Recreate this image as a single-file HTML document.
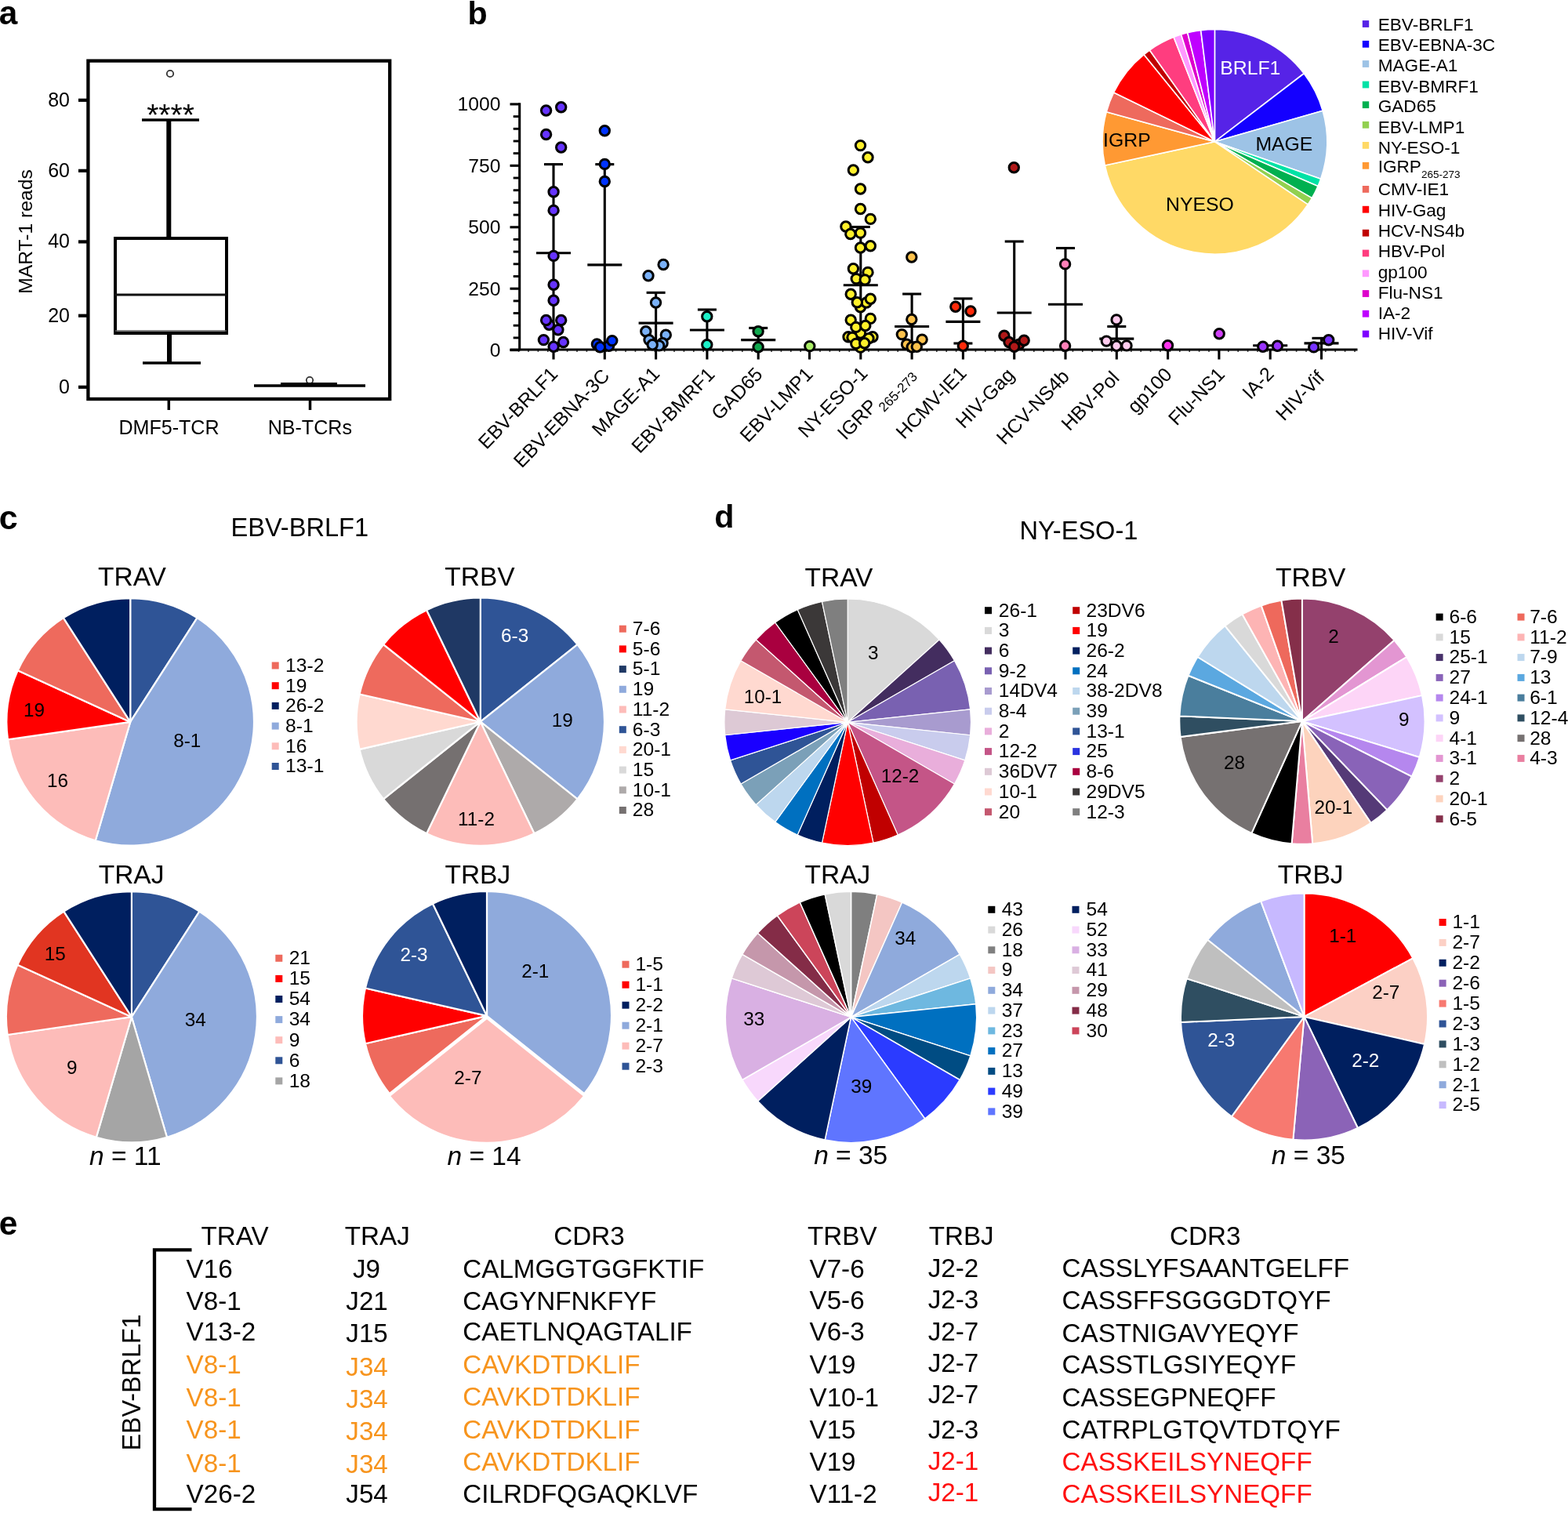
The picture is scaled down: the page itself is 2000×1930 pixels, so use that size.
<!DOCTYPE html>
<html lang="en"><head><meta charset="utf-8"><title>Figure</title>
<style>html,body{margin:0;padding:0;background:#fff}body{width:2000px;height:1930px;overflow:hidden}svg{display:block}text{font-family:"Liberation Sans", sans-serif}</style>
</head><body>
<svg width="2000" height="1930" viewBox="0 0 2000 1930">
<rect width="2000" height="1930" fill="#fff"/>
<text x="-1.3" y="31.1" font-size="42.3" font-weight="bold">a</text>
<text x="596.4" y="31.0" font-size="41.2" font-weight="bold">b</text>
<text x="-1.2" y="675.2" font-size="43" font-weight="bold">c</text>
<text x="911.2" y="673.1" font-size="41.2" font-weight="bold">d</text>
<text x="-1.3" y="1575.3" font-size="42.5" font-weight="bold">e</text>
<g id="panel-a">
<rect x="112.4" y="77.6" width="384.8" height="431.4" fill="none" stroke="#000" stroke-width="4.3"/>
<line x1="100" y1="493.8" x2="111" y2="493.8" stroke="#000" stroke-width="4.2"/>
<text x="89.0" y="501.9" font-size="25" text-anchor="end">0</text>
<line x1="100" y1="402.7" x2="111" y2="402.7" stroke="#000" stroke-width="4.2"/>
<text x="89.0" y="410.8" font-size="25" text-anchor="end">20</text>
<line x1="100" y1="308.4" x2="111" y2="308.4" stroke="#000" stroke-width="4.2"/>
<text x="89.0" y="316.4" font-size="25" text-anchor="end">40</text>
<line x1="100" y1="217.8" x2="111" y2="217.8" stroke="#000" stroke-width="4.2"/>
<text x="89.0" y="225.8" font-size="25" text-anchor="end">60</text>
<line x1="100" y1="127.8" x2="111" y2="127.8" stroke="#000" stroke-width="4.2"/>
<text x="89.0" y="135.8" font-size="25" text-anchor="end">80</text>
<line x1="215.3" y1="509" x2="215.3" y2="523" stroke="#000" stroke-width="3.5"/>
<line x1="395.5" y1="509" x2="395.5" y2="523" stroke="#000" stroke-width="3.5"/>
<text x="215.5" y="553.5" font-size="25.1" text-anchor="middle">DMF5-TCR</text>
<text x="395.3" y="553.5" font-size="25.1" text-anchor="middle">NB-TCRs</text>
<text transform="translate(40.6 295.5) rotate(-90)" font-size="24.7" text-anchor="middle">MART-1 reads</text>
<line x1="215.3" y1="153" x2="215.3" y2="304" stroke="#000" stroke-width="6"/>
<line x1="216" y1="425" x2="216" y2="463" stroke="#000" stroke-width="6"/>
<line x1="181" y1="153" x2="254" y2="153" stroke="#000" stroke-width="3.5"/>
<line x1="182" y1="463" x2="256" y2="463" stroke="#000" stroke-width="3.5"/>
<rect x="147" y="304" width="142" height="121" fill="#fff" stroke="#000" stroke-width="4"/>
<line x1="147" y1="376" x2="289" y2="376" stroke="#111" stroke-width="3.2"/>
<line x1="147" y1="422" x2="289" y2="422" stroke="#555" stroke-width="1.5"/>
<circle cx="217" cy="94" r="4.2" fill="#fff" stroke="#333" stroke-width="1.8"/>
<text x="217.5" y="160.0" font-size="39" text-anchor="middle">****</text>
<circle cx="395" cy="485" r="4.2" fill="#fff" stroke="#333" stroke-width="1.8"/>
<line x1="324" y1="492" x2="466" y2="492" stroke="#000" stroke-width="3.5"/>
<line x1="358" y1="489.5" x2="430" y2="489.5" stroke="#000" stroke-width="3"/>
</g>
<g id="panel-b">
<line x1="662.7" y1="131.2" x2="662.7" y2="447.3" stroke="#000" stroke-width="3.1"/>
<line x1="650.5" y1="446.0" x2="1731.5" y2="446.0" stroke="#000" stroke-width="3.1"/>
<line x1="650.5" y1="446.6" x2="662.7" y2="446.6" stroke="#000" stroke-width="3.1"/>
<text x="638.5" y="454.9" font-size="24.7" text-anchor="end">0</text>
<line x1="654.7" y1="430.9" x2="662.7" y2="430.9" stroke="#000" stroke-width="2.9"/>
<line x1="654.7" y1="415.2" x2="662.7" y2="415.2" stroke="#000" stroke-width="2.9"/>
<line x1="654.7" y1="399.5" x2="662.7" y2="399.5" stroke="#000" stroke-width="2.9"/>
<line x1="654.7" y1="383.9" x2="662.7" y2="383.9" stroke="#000" stroke-width="2.9"/>
<line x1="650.5" y1="368.2" x2="662.7" y2="368.2" stroke="#000" stroke-width="3.1"/>
<text x="638.5" y="376.5" font-size="24.7" text-anchor="end">250</text>
<line x1="654.7" y1="352.5" x2="662.7" y2="352.5" stroke="#000" stroke-width="2.9"/>
<line x1="654.7" y1="336.8" x2="662.7" y2="336.8" stroke="#000" stroke-width="2.9"/>
<line x1="654.7" y1="321.1" x2="662.7" y2="321.1" stroke="#000" stroke-width="2.9"/>
<line x1="654.7" y1="305.4" x2="662.7" y2="305.4" stroke="#000" stroke-width="2.9"/>
<line x1="650.5" y1="289.8" x2="662.7" y2="289.8" stroke="#000" stroke-width="3.1"/>
<text x="638.5" y="298.1" font-size="24.7" text-anchor="end">500</text>
<line x1="654.7" y1="274.1" x2="662.7" y2="274.1" stroke="#000" stroke-width="2.9"/>
<line x1="654.7" y1="258.4" x2="662.7" y2="258.4" stroke="#000" stroke-width="2.9"/>
<line x1="654.7" y1="242.7" x2="662.7" y2="242.7" stroke="#000" stroke-width="2.9"/>
<line x1="654.7" y1="227.0" x2="662.7" y2="227.0" stroke="#000" stroke-width="2.9"/>
<line x1="650.5" y1="211.3" x2="662.7" y2="211.3" stroke="#000" stroke-width="3.1"/>
<text x="638.5" y="219.7" font-size="24.7" text-anchor="end">750</text>
<line x1="654.7" y1="195.6" x2="662.7" y2="195.6" stroke="#000" stroke-width="2.9"/>
<line x1="654.7" y1="180.0" x2="662.7" y2="180.0" stroke="#000" stroke-width="2.9"/>
<line x1="654.7" y1="164.3" x2="662.7" y2="164.3" stroke="#000" stroke-width="2.9"/>
<line x1="654.7" y1="148.6" x2="662.7" y2="148.6" stroke="#000" stroke-width="2.9"/>
<line x1="650.5" y1="132.9" x2="662.7" y2="132.9" stroke="#000" stroke-width="3.1"/>
<text x="638.5" y="141.2" font-size="24.7" text-anchor="end">1000</text>
<line x1="661.6" y1="446.0" x2="661.6" y2="448.9" stroke="#000" stroke-width="1.6" opacity="0.75"/>
<line x1="674.0" y1="446.0" x2="674.0" y2="448.9" stroke="#000" stroke-width="1.6" opacity="0.75"/>
<line x1="686.4" y1="446.0" x2="686.4" y2="448.9" stroke="#000" stroke-width="1.6" opacity="0.75"/>
<line x1="698.8" y1="446.0" x2="698.8" y2="448.9" stroke="#000" stroke-width="1.6" opacity="0.75"/>
<line x1="711.2" y1="446.0" x2="711.2" y2="448.9" stroke="#000" stroke-width="1.6" opacity="0.75"/>
<line x1="723.6" y1="446.0" x2="723.6" y2="448.9" stroke="#000" stroke-width="1.6" opacity="0.75"/>
<line x1="736.0" y1="446.0" x2="736.0" y2="448.9" stroke="#000" stroke-width="1.6" opacity="0.75"/>
<line x1="748.4" y1="446.0" x2="748.4" y2="448.9" stroke="#000" stroke-width="1.6" opacity="0.75"/>
<line x1="760.8" y1="446.0" x2="760.8" y2="448.9" stroke="#000" stroke-width="1.6" opacity="0.75"/>
<line x1="773.2" y1="446.0" x2="773.2" y2="448.9" stroke="#000" stroke-width="1.6" opacity="0.75"/>
<line x1="785.6" y1="446.0" x2="785.6" y2="448.9" stroke="#000" stroke-width="1.6" opacity="0.75"/>
<line x1="798.0" y1="446.0" x2="798.0" y2="448.9" stroke="#000" stroke-width="1.6" opacity="0.75"/>
<line x1="810.4" y1="446.0" x2="810.4" y2="448.9" stroke="#000" stroke-width="1.6" opacity="0.75"/>
<line x1="822.8" y1="446.0" x2="822.8" y2="448.9" stroke="#000" stroke-width="1.6" opacity="0.75"/>
<line x1="835.2" y1="446.0" x2="835.2" y2="448.9" stroke="#000" stroke-width="1.6" opacity="0.75"/>
<line x1="847.6" y1="446.0" x2="847.6" y2="448.9" stroke="#000" stroke-width="1.6" opacity="0.75"/>
<line x1="860.0" y1="446.0" x2="860.0" y2="448.9" stroke="#000" stroke-width="1.6" opacity="0.75"/>
<line x1="872.4" y1="446.0" x2="872.4" y2="448.9" stroke="#000" stroke-width="1.6" opacity="0.75"/>
<line x1="884.8" y1="446.0" x2="884.8" y2="448.9" stroke="#000" stroke-width="1.6" opacity="0.75"/>
<line x1="897.2" y1="446.0" x2="897.2" y2="448.9" stroke="#000" stroke-width="1.6" opacity="0.75"/>
<line x1="909.6" y1="446.0" x2="909.6" y2="448.9" stroke="#000" stroke-width="1.6" opacity="0.75"/>
<line x1="922.0" y1="446.0" x2="922.0" y2="448.9" stroke="#000" stroke-width="1.6" opacity="0.75"/>
<line x1="934.4" y1="446.0" x2="934.4" y2="448.9" stroke="#000" stroke-width="1.6" opacity="0.75"/>
<line x1="946.8" y1="446.0" x2="946.8" y2="448.9" stroke="#000" stroke-width="1.6" opacity="0.75"/>
<line x1="959.2" y1="446.0" x2="959.2" y2="448.9" stroke="#000" stroke-width="1.6" opacity="0.75"/>
<line x1="971.6" y1="446.0" x2="971.6" y2="448.9" stroke="#000" stroke-width="1.6" opacity="0.75"/>
<line x1="984.0" y1="446.0" x2="984.0" y2="448.9" stroke="#000" stroke-width="1.6" opacity="0.75"/>
<line x1="996.4" y1="446.0" x2="996.4" y2="448.9" stroke="#000" stroke-width="1.6" opacity="0.75"/>
<line x1="1008.8" y1="446.0" x2="1008.8" y2="448.9" stroke="#000" stroke-width="1.6" opacity="0.75"/>
<line x1="1021.2" y1="446.0" x2="1021.2" y2="448.9" stroke="#000" stroke-width="1.6" opacity="0.75"/>
<line x1="1033.6" y1="446.0" x2="1033.6" y2="448.9" stroke="#000" stroke-width="1.6" opacity="0.75"/>
<line x1="1046.0" y1="446.0" x2="1046.0" y2="448.9" stroke="#000" stroke-width="1.6" opacity="0.75"/>
<line x1="1058.4" y1="446.0" x2="1058.4" y2="448.9" stroke="#000" stroke-width="1.6" opacity="0.75"/>
<line x1="1070.8" y1="446.0" x2="1070.8" y2="448.9" stroke="#000" stroke-width="1.6" opacity="0.75"/>
<line x1="1083.2" y1="446.0" x2="1083.2" y2="448.9" stroke="#000" stroke-width="1.6" opacity="0.75"/>
<line x1="1095.6" y1="446.0" x2="1095.6" y2="448.9" stroke="#000" stroke-width="1.6" opacity="0.75"/>
<line x1="1108.0" y1="446.0" x2="1108.0" y2="448.9" stroke="#000" stroke-width="1.6" opacity="0.75"/>
<line x1="1120.4" y1="446.0" x2="1120.4" y2="448.9" stroke="#000" stroke-width="1.6" opacity="0.75"/>
<line x1="1132.8" y1="446.0" x2="1132.8" y2="448.9" stroke="#000" stroke-width="1.6" opacity="0.75"/>
<line x1="1145.2" y1="446.0" x2="1145.2" y2="448.9" stroke="#000" stroke-width="1.6" opacity="0.75"/>
<line x1="1157.6" y1="446.0" x2="1157.6" y2="448.9" stroke="#000" stroke-width="1.6" opacity="0.75"/>
<line x1="1170.0" y1="446.0" x2="1170.0" y2="448.9" stroke="#000" stroke-width="1.6" opacity="0.75"/>
<line x1="1182.4" y1="446.0" x2="1182.4" y2="448.9" stroke="#000" stroke-width="1.6" opacity="0.75"/>
<line x1="1194.8" y1="446.0" x2="1194.8" y2="448.9" stroke="#000" stroke-width="1.6" opacity="0.75"/>
<line x1="1207.2" y1="446.0" x2="1207.2" y2="448.9" stroke="#000" stroke-width="1.6" opacity="0.75"/>
<line x1="1219.6" y1="446.0" x2="1219.6" y2="448.9" stroke="#000" stroke-width="1.6" opacity="0.75"/>
<line x1="1232.0" y1="446.0" x2="1232.0" y2="448.9" stroke="#000" stroke-width="1.6" opacity="0.75"/>
<line x1="1244.4" y1="446.0" x2="1244.4" y2="448.9" stroke="#000" stroke-width="1.6" opacity="0.75"/>
<line x1="1256.8" y1="446.0" x2="1256.8" y2="448.9" stroke="#000" stroke-width="1.6" opacity="0.75"/>
<line x1="1269.2" y1="446.0" x2="1269.2" y2="448.9" stroke="#000" stroke-width="1.6" opacity="0.75"/>
<line x1="1281.6" y1="446.0" x2="1281.6" y2="448.9" stroke="#000" stroke-width="1.6" opacity="0.75"/>
<line x1="1294.0" y1="446.0" x2="1294.0" y2="448.9" stroke="#000" stroke-width="1.6" opacity="0.75"/>
<line x1="1306.4" y1="446.0" x2="1306.4" y2="448.9" stroke="#000" stroke-width="1.6" opacity="0.75"/>
<line x1="1318.8" y1="446.0" x2="1318.8" y2="448.9" stroke="#000" stroke-width="1.6" opacity="0.75"/>
<line x1="1331.2" y1="446.0" x2="1331.2" y2="448.9" stroke="#000" stroke-width="1.6" opacity="0.75"/>
<line x1="1343.6" y1="446.0" x2="1343.6" y2="448.9" stroke="#000" stroke-width="1.6" opacity="0.75"/>
<line x1="1356.0" y1="446.0" x2="1356.0" y2="448.9" stroke="#000" stroke-width="1.6" opacity="0.75"/>
<line x1="1368.4" y1="446.0" x2="1368.4" y2="448.9" stroke="#000" stroke-width="1.6" opacity="0.75"/>
<line x1="1380.8" y1="446.0" x2="1380.8" y2="448.9" stroke="#000" stroke-width="1.6" opacity="0.75"/>
<line x1="1393.2" y1="446.0" x2="1393.2" y2="448.9" stroke="#000" stroke-width="1.6" opacity="0.75"/>
<line x1="1405.6" y1="446.0" x2="1405.6" y2="448.9" stroke="#000" stroke-width="1.6" opacity="0.75"/>
<line x1="1418.0" y1="446.0" x2="1418.0" y2="448.9" stroke="#000" stroke-width="1.6" opacity="0.75"/>
<line x1="1430.4" y1="446.0" x2="1430.4" y2="448.9" stroke="#000" stroke-width="1.6" opacity="0.75"/>
<line x1="1442.8" y1="446.0" x2="1442.8" y2="448.9" stroke="#000" stroke-width="1.6" opacity="0.75"/>
<line x1="1455.2" y1="446.0" x2="1455.2" y2="448.9" stroke="#000" stroke-width="1.6" opacity="0.75"/>
<line x1="1467.6" y1="446.0" x2="1467.6" y2="448.9" stroke="#000" stroke-width="1.6" opacity="0.75"/>
<line x1="1480.0" y1="446.0" x2="1480.0" y2="448.9" stroke="#000" stroke-width="1.6" opacity="0.75"/>
<line x1="1492.4" y1="446.0" x2="1492.4" y2="448.9" stroke="#000" stroke-width="1.6" opacity="0.75"/>
<line x1="1504.8" y1="446.0" x2="1504.8" y2="448.9" stroke="#000" stroke-width="1.6" opacity="0.75"/>
<line x1="1517.2" y1="446.0" x2="1517.2" y2="448.9" stroke="#000" stroke-width="1.6" opacity="0.75"/>
<line x1="1529.6" y1="446.0" x2="1529.6" y2="448.9" stroke="#000" stroke-width="1.6" opacity="0.75"/>
<line x1="1542.0" y1="446.0" x2="1542.0" y2="448.9" stroke="#000" stroke-width="1.6" opacity="0.75"/>
<line x1="1554.4" y1="446.0" x2="1554.4" y2="448.9" stroke="#000" stroke-width="1.6" opacity="0.75"/>
<line x1="1566.8" y1="446.0" x2="1566.8" y2="448.9" stroke="#000" stroke-width="1.6" opacity="0.75"/>
<line x1="1579.2" y1="446.0" x2="1579.2" y2="448.9" stroke="#000" stroke-width="1.6" opacity="0.75"/>
<line x1="1591.6" y1="446.0" x2="1591.6" y2="448.9" stroke="#000" stroke-width="1.6" opacity="0.75"/>
<line x1="1604.0" y1="446.0" x2="1604.0" y2="448.9" stroke="#000" stroke-width="1.6" opacity="0.75"/>
<line x1="1616.4" y1="446.0" x2="1616.4" y2="448.9" stroke="#000" stroke-width="1.6" opacity="0.75"/>
<line x1="1628.8" y1="446.0" x2="1628.8" y2="448.9" stroke="#000" stroke-width="1.6" opacity="0.75"/>
<line x1="1641.2" y1="446.0" x2="1641.2" y2="448.9" stroke="#000" stroke-width="1.6" opacity="0.75"/>
<line x1="1653.6" y1="446.0" x2="1653.6" y2="448.9" stroke="#000" stroke-width="1.6" opacity="0.75"/>
<line x1="1666.0" y1="446.0" x2="1666.0" y2="448.9" stroke="#000" stroke-width="1.6" opacity="0.75"/>
<line x1="1678.4" y1="446.0" x2="1678.4" y2="448.9" stroke="#000" stroke-width="1.6" opacity="0.75"/>
<line x1="1690.8" y1="446.0" x2="1690.8" y2="448.9" stroke="#000" stroke-width="1.6" opacity="0.75"/>
<line x1="1703.2" y1="446.0" x2="1703.2" y2="448.9" stroke="#000" stroke-width="1.6" opacity="0.75"/>
<line x1="1715.6" y1="446.0" x2="1715.6" y2="448.9" stroke="#000" stroke-width="1.6" opacity="0.75"/>
<line x1="1728.0" y1="446.0" x2="1728.0" y2="448.9" stroke="#000" stroke-width="1.6" opacity="0.75"/>
<line x1="706.0" y1="446.0" x2="706.0" y2="458.5" stroke="#000" stroke-width="3.1"/>
<text transform="translate(712.9 478.4) rotate(-46)" font-size="24.7" text-anchor="end">EBV-BRLF1</text>
<line x1="771.3" y1="446.0" x2="771.3" y2="458.5" stroke="#000" stroke-width="3.1"/>
<text transform="translate(779.0 480.6) rotate(-46)" font-size="24.7" text-anchor="end">EBV-EBNA-3C</text>
<line x1="836.6" y1="446.0" x2="836.6" y2="458.5" stroke="#000" stroke-width="3.1"/>
<text transform="translate(842.7 478.1) rotate(-46)" font-size="24.7" text-anchor="end">MAGE-A1</text>
<line x1="901.9" y1="446.0" x2="901.9" y2="458.5" stroke="#000" stroke-width="3.1"/>
<text transform="translate(913.1 478.9) rotate(-46)" font-size="24.7" text-anchor="end">EBV-BMRF1</text>
<line x1="967.2" y1="446.0" x2="967.2" y2="458.5" stroke="#000" stroke-width="3.1"/>
<text transform="translate(974.1 478.8) rotate(-46)" font-size="24.7" text-anchor="end">GAD65</text>
<line x1="1032.5" y1="446.0" x2="1032.5" y2="458.5" stroke="#000" stroke-width="3.1"/>
<text transform="translate(1038.2 478.6) rotate(-46)" font-size="24.7" text-anchor="end">EBV-LMP1</text>
<line x1="1097.8" y1="446.0" x2="1097.8" y2="458.5" stroke="#000" stroke-width="3.1"/>
<text transform="translate(1108.0 477.6) rotate(-46)" font-size="24.7" text-anchor="end">NY-ESO-1</text>
<line x1="1163.1" y1="446.0" x2="1163.1" y2="458.5" stroke="#000" stroke-width="3.1"/>
<text transform="translate(1163.7 474.2) rotate(-46)" font-size="24.7" text-anchor="end">IGRP<tspan font-size="17" dy="10.4">265-273</tspan></text>
<line x1="1228.4" y1="446.0" x2="1228.4" y2="458.5" stroke="#000" stroke-width="3.1"/>
<text transform="translate(1234.3 477.4) rotate(-46)" font-size="24.7" text-anchor="end">HCMV-IE1</text>
<line x1="1293.7" y1="446.0" x2="1293.7" y2="458.5" stroke="#000" stroke-width="3.1"/>
<text transform="translate(1295.2 479.6) rotate(-46)" font-size="24.7" text-anchor="end">HIV-Gag</text>
<line x1="1359.0" y1="446.0" x2="1359.0" y2="458.5" stroke="#000" stroke-width="3.1"/>
<text transform="translate(1365.4 481.6) rotate(-46)" font-size="24.7" text-anchor="end">HCV-NS4b</text>
<line x1="1424.3" y1="446.0" x2="1424.3" y2="458.5" stroke="#000" stroke-width="3.1"/>
<text transform="translate(1429.0 483.6) rotate(-46)" font-size="24.7" text-anchor="end">HBV-Pol</text>
<line x1="1489.6" y1="446.0" x2="1489.6" y2="458.5" stroke="#000" stroke-width="3.1"/>
<text transform="translate(1496.3 479.1) rotate(-46)" font-size="24.7" text-anchor="end">gp100</text>
<line x1="1554.9" y1="446.0" x2="1554.9" y2="458.5" stroke="#000" stroke-width="3.1"/>
<text transform="translate(1563.6 478.9) rotate(-46)" font-size="24.7" text-anchor="end">Flu-NS1</text>
<line x1="1620.2" y1="446.0" x2="1620.2" y2="458.5" stroke="#000" stroke-width="3.1"/>
<text transform="translate(1626.4 478.3) rotate(-46)" font-size="24.7" text-anchor="end">IA-2</text>
<line x1="1685.5" y1="446.0" x2="1685.5" y2="458.5" stroke="#000" stroke-width="3.1"/>
<text transform="translate(1690.7 483.1) rotate(-46)" font-size="24.7" text-anchor="end">HIV-Vif</text>
<g stroke="#000" stroke-width="3.1">
<line x1="684.0" y1="322.8" x2="728.0" y2="322.8"/>
<line x1="694.0" y1="209.6" x2="718.0" y2="209.6"/>
<line x1="706.0" y1="209.6" x2="706.0" y2="446.0"/>
</g>
<g fill="#6633FF" stroke="#000" stroke-width="3.0">
<circle cx="696.6" cy="141" r="6.2"/>
<circle cx="715.7" cy="136.7" r="6.2"/>
<circle cx="696.6" cy="171.5" r="6.2"/>
<circle cx="715.7" cy="188" r="6.2"/>
<circle cx="706.1" cy="244.8" r="6.2"/>
<circle cx="706.1" cy="268.4" r="6.2"/>
<circle cx="706.1" cy="326.4" r="6.2"/>
<circle cx="706.1" cy="363.2" r="6.2"/>
<circle cx="706.1" cy="383.2" r="6.2"/>
<circle cx="700.4" cy="414.2" r="6.2"/>
<circle cx="696.6" cy="408.5" r="6.2"/>
<circle cx="715.7" cy="408.5" r="6.2"/>
<circle cx="711.9" cy="420.7" r="6.2"/>
<circle cx="693.4" cy="433.6" r="6.2"/>
<circle cx="718.5" cy="436.5" r="6.2"/>
<circle cx="706.1" cy="442.2" r="6.2"/>
</g>
<g stroke="#000" stroke-width="3.1">
<line x1="749.3" y1="337.9" x2="793.3" y2="337.9"/>
<line x1="759.3" y1="209.6" x2="783.3" y2="209.6"/>
<line x1="771.3" y1="209.6" x2="771.3" y2="446.0"/>
</g>
<g fill="#0033FF" stroke="#000" stroke-width="3.0">
<circle cx="771.3" cy="166.7" r="6.2"/>
<circle cx="771.3" cy="209.4" r="6.2"/>
<circle cx="771.3" cy="231.5" r="6.2"/>
<circle cx="761.4" cy="439" r="6.2"/>
<circle cx="776.6" cy="441.2" r="6.2"/>
<circle cx="780.8" cy="434.6" r="6.2"/>
<circle cx="765.5" cy="442.8" r="6.2"/>
</g>
<g stroke="#000" stroke-width="3.1">
<line x1="814.6" y1="412.1" x2="858.6" y2="412.1"/>
<line x1="824.6" y1="373.3" x2="848.6" y2="373.3"/>
<line x1="836.6" y1="373.3" x2="836.6" y2="446.0"/>
</g>
<g fill="#7AB1F8" stroke="#000" stroke-width="3.0">
<circle cx="846.1" cy="337.5" r="6.2"/>
<circle cx="827" cy="351.8" r="6.2"/>
<circle cx="836.5" cy="386" r="6.2"/>
<circle cx="823.8" cy="422.8" r="6.2"/>
<circle cx="849.3" cy="427.3" r="6.2"/>
<circle cx="828" cy="433.6" r="6.2"/>
<circle cx="845.1" cy="437.8" r="6.2"/>
<circle cx="840.7" cy="440.9" r="6.2"/>
<circle cx="832.2" cy="439.7" r="6.2"/>
</g>
<g stroke="#000" stroke-width="3.1">
<line x1="879.9" y1="421" x2="923.9" y2="421"/>
<line x1="889.9" y1="395" x2="913.9" y2="395"/>
<line x1="901.9" y1="395" x2="901.9" y2="446.0"/>
</g>
<g fill="#1CF0C8" stroke="#000" stroke-width="3.0">
<circle cx="901.8" cy="403.7" r="6.2"/>
<circle cx="901.8" cy="439.7" r="6.2"/>
</g>
<g stroke="#000" stroke-width="3.1">
<line x1="945.2" y1="433.6" x2="989.2" y2="433.6"/>
<line x1="955.2" y1="418.4" x2="979.2" y2="418.4"/>
<line x1="967.2" y1="418.4" x2="967.2" y2="446.0"/>
</g>
<g fill="#10A84E" stroke="#000" stroke-width="3.0">
<circle cx="967.1" cy="422.8" r="6.2"/>
<circle cx="967.1" cy="442.8" r="6.2"/>
</g>
<g stroke="#000" stroke-width="3.1">
</g>
<g fill="#AAEE66" stroke="#000" stroke-width="3.0">
<circle cx="1032.8" cy="441.6" r="6.2"/>
</g>
<g stroke="#000" stroke-width="3.1">
<line x1="1075.8" y1="363.8" x2="1119.8" y2="363.8"/>
<line x1="1085.8" y1="289.5" x2="1109.8" y2="289.5"/>
<line x1="1097.8" y1="289.5" x2="1097.8" y2="446.0"/>
</g>
<g fill="#FFF02A" stroke="#000" stroke-width="3.0">
<circle cx="1097.5" cy="185.6" r="6.2"/>
<circle cx="1107" cy="200.8" r="6.2"/>
<circle cx="1088.4" cy="217" r="6.2"/>
<circle cx="1097.5" cy="241" r="6.2"/>
<circle cx="1097.5" cy="266.5" r="6.2"/>
<circle cx="1110.3" cy="279.4" r="6.2"/>
<circle cx="1078.9" cy="289" r="6.2"/>
<circle cx="1084.8" cy="298.5" r="6.2"/>
<circle cx="1097.5" cy="297.1" r="6.2"/>
<circle cx="1110.3" cy="313.7" r="6.2"/>
<circle cx="1097.5" cy="316" r="6.2"/>
<circle cx="1088.4" cy="342.8" r="6.2"/>
<circle cx="1107" cy="347.4" r="6.2"/>
<circle cx="1092.2" cy="355.6" r="6.2"/>
<circle cx="1103.2" cy="356.9" r="6.2"/>
<circle cx="1085.2" cy="375.2" r="6.2"/>
<circle cx="1097.5" cy="391.7" r="6.2"/>
<circle cx="1105.1" cy="386" r="6.2"/>
<circle cx="1110.3" cy="381.3" r="6.2"/>
<circle cx="1093.3" cy="385.7" r="6.2"/>
<circle cx="1085.2" cy="408.3" r="6.2"/>
<circle cx="1110.3" cy="406.4" r="6.2"/>
<circle cx="1097.5" cy="425" r="6.2"/>
<circle cx="1091.8" cy="417.4" r="6.2"/>
<circle cx="1103.8" cy="415.5" r="6.2"/>
<circle cx="1082" cy="429.8" r="6.2"/>
<circle cx="1113" cy="429.8" r="6.2"/>
<circle cx="1108" cy="431.7" r="6.2"/>
<circle cx="1087" cy="430.4" r="6.2"/>
<circle cx="1097.5" cy="443.1" r="6.2"/>
<circle cx="1091.8" cy="438.4" r="6.2"/>
<circle cx="1102.7" cy="437.8" r="6.2"/>
</g>
<g stroke="#000" stroke-width="3.1">
<line x1="1141.1" y1="416.5" x2="1185.1" y2="416.5"/>
<line x1="1151.1" y1="375" x2="1175.1" y2="375"/>
<line x1="1163.1" y1="375" x2="1163.1" y2="446.0"/>
</g>
<g fill="#FDC24C" stroke="#000" stroke-width="3.0">
<circle cx="1162.8" cy="328" r="6.2"/>
<circle cx="1162.8" cy="407.5" r="6.2"/>
<circle cx="1150.3" cy="426.6" r="6.2"/>
<circle cx="1176.1" cy="433.1" r="6.2"/>
<circle cx="1156.5" cy="439.3" r="6.2"/>
<circle cx="1163.2" cy="442.8" r="6.2"/>
<circle cx="1169.3" cy="442.2" r="6.2"/>
</g>
<g stroke="#000" stroke-width="3.1">
<line x1="1206.4" y1="410.4" x2="1250.4" y2="410.4"/>
<line x1="1216.4" y1="380.9" x2="1240.4" y2="380.9"/>
<line x1="1228.4" y1="380.9" x2="1228.4" y2="438"/>
<line x1="1216.4" y1="438" x2="1240.4" y2="438"/>
</g>
<g fill="#FF2A0A" stroke="#000" stroke-width="3.0">
<circle cx="1218.8" cy="391.2" r="6.2"/>
<circle cx="1238" cy="397" r="6.2"/>
<circle cx="1228.3" cy="441.2" r="6.2"/>
</g>
<g stroke="#000" stroke-width="3.1">
<line x1="1271.7" y1="399" x2="1315.7" y2="399"/>
<line x1="1281.7" y1="308" x2="1305.7" y2="308"/>
<line x1="1293.7" y1="308" x2="1293.7" y2="446.0"/>
</g>
<g fill="#B01818" stroke="#000" stroke-width="3.0">
<circle cx="1293.3" cy="213.8" r="6.2"/>
<circle cx="1280.9" cy="428.3" r="6.2"/>
<circle cx="1300" cy="439.3" r="6.2"/>
<circle cx="1306.2" cy="434.2" r="6.2"/>
<circle cx="1287" cy="436.5" r="6.2"/>
<circle cx="1293.7" cy="442.2" r="6.2"/>
</g>
<g stroke="#000" stroke-width="3.1">
<line x1="1337.0" y1="388.3" x2="1381.0" y2="388.3"/>
<line x1="1347.0" y1="316.5" x2="1371.0" y2="316.5"/>
<line x1="1359.0" y1="316.5" x2="1359.0" y2="446.0"/>
</g>
<g fill="#FF80B8" stroke="#000" stroke-width="3.0">
<circle cx="1358.6" cy="336.9" r="6.2"/>
<circle cx="1358.6" cy="441.2" r="6.2"/>
</g>
<g stroke="#000" stroke-width="3.1">
<line x1="1402.3" y1="432.1" x2="1446.3" y2="432.1"/>
<line x1="1412.3" y1="416.5" x2="1436.3" y2="416.5"/>
<line x1="1424.3" y1="416.5" x2="1424.3" y2="446.0"/>
</g>
<g fill="#FFCCEE" stroke="#000" stroke-width="3.0">
<circle cx="1424.1" cy="407.9" r="6.2"/>
<circle cx="1411.3" cy="435.1" r="6.2"/>
<circle cx="1424.1" cy="441.2" r="6.2"/>
<circle cx="1437" cy="440.9" r="6.2"/>
</g>
<g stroke="#000" stroke-width="3.1">
</g>
<g fill="#FF33EE" stroke="#000" stroke-width="3.0">
<circle cx="1489.5" cy="440.8" r="6.2"/>
</g>
<g stroke="#000" stroke-width="3.1">
</g>
<g fill="#D040F8" stroke="#000" stroke-width="3.0">
<circle cx="1555.2" cy="425.7" r="6.2"/>
</g>
<g stroke="#000" stroke-width="3.1">
<line x1="1598.2" y1="440.8" x2="1642.2" y2="440.8"/>
</g>
<g fill="#9933FF" stroke="#000" stroke-width="3.0">
<circle cx="1610.8" cy="442.3" r="6.2"/>
<circle cx="1629.4" cy="441.3" r="6.2"/>
</g>
<g stroke="#000" stroke-width="3.1">
<line x1="1663.5" y1="437.9" x2="1707.5" y2="437.9"/>
<line x1="1673.5" y1="431.4" x2="1697.5" y2="431.4"/>
<line x1="1685.5" y1="431.4" x2="1685.5" y2="446.0"/>
</g>
<g fill="#7733FF" stroke="#000" stroke-width="3.0">
<circle cx="1675.7" cy="442.9" r="6.2"/>
<circle cx="1694.7" cy="433.7" r="6.2"/>
</g>
<g stroke="#fff" stroke-width="1.6" stroke-linejoin="round">
<path d="M1549.40 180.80L1549.40 37.50A143.3 143.3 0 0 1 1663.24 93.76Z" fill="#5623E7"/>
<path d="M1549.40 180.80L1663.24 93.76A143.3 143.3 0 0 1 1687.15 141.30Z" fill="#1400FF"/>
<path d="M1549.40 180.80L1687.15 141.30A143.3 143.3 0 0 1 1684.65 228.16Z" fill="#9DC3E6"/>
<path d="M1549.40 180.80L1684.65 228.16A143.3 143.3 0 0 1 1681.01 237.48Z" fill="#00E2A6"/>
<path d="M1549.40 180.80L1681.01 237.48A143.3 143.3 0 0 1 1673.38 252.67Z" fill="#00B050"/>
<path d="M1549.40 180.80L1673.38 252.67A143.3 143.3 0 0 1 1668.20 260.93Z" fill="#92D050"/>
<path d="M1549.40 180.80L1668.20 260.93A143.3 143.3 0 0 1 1409.34 211.08Z" fill="#FFD966"/>
<path d="M1549.40 180.80L1409.34 211.08A143.3 143.3 0 0 1 1411.25 142.75Z" fill="#FF9933"/>
<path d="M1549.40 180.80L1411.25 142.75A143.3 143.3 0 0 1 1420.60 117.98Z" fill="#EE6A5D"/>
<path d="M1549.40 180.80L1420.60 117.98A143.3 143.3 0 0 1 1459.02 69.59Z" fill="#FF0000"/>
<path d="M1549.40 180.80L1459.02 69.59A143.3 143.3 0 0 1 1466.39 63.99Z" fill="#C00000"/>
<path d="M1549.40 180.80L1466.39 63.99A143.3 143.3 0 0 1 1497.11 47.38Z" fill="#FF3D7F"/>
<path d="M1549.40 180.80L1497.11 47.38A143.3 143.3 0 0 1 1506.55 44.06Z" fill="#FF99FF"/>
<path d="M1549.40 180.80L1506.55 44.06A143.3 143.3 0 0 1 1514.73 41.76Z" fill="#DD00CC"/>
<path d="M1549.40 180.80L1514.73 41.76A143.3 143.3 0 0 1 1531.69 38.60Z" fill="#BF00FF"/>
<path d="M1549.40 180.80L1531.69 38.60A143.3 143.3 0 0 1 1549.40 37.50Z" fill="#7F00FF"/>
</g>
<text x="1594.8" y="95.4" font-size="24.8" text-anchor="middle" fill="#fff">BRLF1</text>
<text x="1637.9" y="191.7" font-size="24.8" text-anchor="middle">MAGE</text>
<text x="1437.4" y="187.1" font-size="24.8" text-anchor="middle">IGRP</text>
<text x="1530.5" y="269.2" font-size="24.8" text-anchor="middle">NYESO</text>
<rect x="1737.8" y="26.1" width="8.4" height="8.8" fill="#5623E7"/>
<text x="1757.7" y="38.5" font-size="22.6">EBV-BRLF1</text>
<rect x="1737.8" y="51.9" width="8.4" height="8.8" fill="#1400FF"/>
<text x="1757.7" y="64.8" font-size="22.6">EBV-EBNA-3C</text>
<rect x="1737.8" y="77.1" width="8.4" height="8.8" fill="#9DC3E6"/>
<text x="1757.7" y="91.1" font-size="22.6">MAGE-A1</text>
<rect x="1737.8" y="103.6" width="8.4" height="8.8" fill="#00E2A6"/>
<text x="1757.7" y="117.6" font-size="22.6">EBV-BMRF1</text>
<rect x="1737.8" y="129.3" width="8.4" height="8.8" fill="#00B050"/>
<text x="1757.7" y="143.1" font-size="22.6">GAD65</text>
<rect x="1737.8" y="154.9" width="8.4" height="8.8" fill="#92D050"/>
<text x="1757.7" y="169.9" font-size="22.6">EBV-LMP1</text>
<rect x="1737.8" y="181.0" width="8.4" height="8.8" fill="#FFD966"/>
<text x="1757.7" y="196.3" font-size="22.6">NY-ESO-1</text>
<rect x="1737.8" y="206.9" width="8.4" height="8.8" fill="#FF9933"/>
<text x="1757.7" y="219.6" font-size="22.6">IGRP<tspan font-size="13.5" dy="7">265-273</tspan></text>
<rect x="1737.8" y="237.0" width="8.4" height="8.8" fill="#EE6A5D"/>
<text x="1757.7" y="249.2" font-size="22.6">CMV-IE1</text>
<rect x="1737.8" y="262.8" width="8.4" height="8.8" fill="#FF0000"/>
<text x="1757.7" y="275.6" font-size="22.6">HIV-Gag</text>
<rect x="1737.8" y="292.8" width="8.4" height="8.8" fill="#C00000"/>
<text x="1757.7" y="302.4" font-size="22.6">HCV-NS4b</text>
<rect x="1737.8" y="318.6" width="8.4" height="8.8" fill="#FF3D7F"/>
<text x="1757.7" y="328.0" font-size="22.6">HBV-Pol</text>
<rect x="1737.8" y="344.4" width="8.4" height="8.8" fill="#FF99FF"/>
<text x="1757.7" y="355.0" font-size="22.6">gp100</text>
<rect x="1737.8" y="370.1" width="8.4" height="8.8" fill="#DD00CC"/>
<text x="1757.7" y="380.8" font-size="22.6">Flu-NS1</text>
<rect x="1737.8" y="395.8" width="8.4" height="8.8" fill="#BF00FF"/>
<text x="1757.7" y="406.8" font-size="22.6">IA-2</text>
<rect x="1737.8" y="421.6" width="8.4" height="8.8" fill="#7F00FF"/>
<text x="1757.7" y="433.3" font-size="22.6">HIV-Vif</text>
</g>
<g id="panel-c">
<text x="382.3" y="684.0" font-size="32.6" text-anchor="middle">EBV-BRLF1</text>
<text x="168.5" y="747.4" font-size="33.5" text-anchor="middle">TRAV</text>
<text x="612.0" y="747.4" font-size="33.5" text-anchor="middle">TRBV</text>
<text x="167.6" y="1126.8" font-size="33.5" text-anchor="middle">TRAJ</text>
<text x="609.3" y="1126.8" font-size="33.5" text-anchor="middle">TRBJ</text>
<text x="159.8" y="1485.5" font-size="33.5" text-anchor="middle"><tspan font-style="italic">n</tspan> = 11</text>
<text x="617.6" y="1485.5" font-size="33.5" text-anchor="middle"><tspan font-style="italic">n</tspan> = 14</text>
<g stroke="#fff" stroke-width="2.2" stroke-linejoin="round">
<path d="M166.20 920.90L166.20 763.10A157.8 157.8 0 0 1 251.51 788.15Z" fill="#2F5496"/>
<path d="M166.20 920.90L251.51 788.15A157.8 157.8 0 0 1 121.74 1072.31Z" fill="#8FAADC"/>
<path d="M166.20 920.90L121.74 1072.31A157.8 157.8 0 0 1 10.01 943.36Z" fill="#FDBCB9"/>
<path d="M166.20 920.90L10.01 943.36A157.8 157.8 0 0 1 22.66 855.35Z" fill="#FF0000"/>
<path d="M166.20 920.90L22.66 855.35A157.8 157.8 0 0 1 80.89 788.15Z" fill="#EE6A5D"/>
<path d="M166.20 920.90L80.89 788.15A157.8 157.8 0 0 1 166.20 763.10Z" fill="#001F5F"/>
</g>
<text x="43.6" y="914.2" font-size="24.3" text-anchor="middle">19</text>
<text x="238.8" y="953.2" font-size="24.3" text-anchor="middle">8-1</text>
<text x="73.5" y="1003.7" font-size="24.3" text-anchor="middle">16</text>
<rect x="346.7" y="844.5" width="9" height="9" fill="#EE6A5D"/>
<text x="364.1" y="856.8" font-size="24.6">13-2</text>
<rect x="346.7" y="870.2" width="9" height="9" fill="#FF0000"/>
<text x="364.1" y="882.5" font-size="24.6">19</text>
<rect x="346.7" y="895.9" width="9" height="9" fill="#001F5F"/>
<text x="364.1" y="908.2" font-size="24.6">26-2</text>
<rect x="346.7" y="921.6" width="9" height="9" fill="#8FAADC"/>
<text x="364.1" y="933.9" font-size="24.6">8-1</text>
<rect x="346.7" y="947.3" width="9" height="9" fill="#FDBCB9"/>
<text x="364.1" y="959.6" font-size="24.6">16</text>
<rect x="346.7" y="973.0" width="9" height="9" fill="#2F5496"/>
<text x="364.1" y="985.3" font-size="24.6">13-1</text>
<g stroke="#fff" stroke-width="2.2" stroke-linejoin="round">
<path d="M612.80 920.70L612.80 762.50A158.2 158.2 0 0 1 736.49 822.06Z" fill="#2F5496"/>
<path d="M612.80 920.70L736.49 822.06A158.2 158.2 0 0 1 736.49 1019.34Z" fill="#8FAADC"/>
<path d="M612.80 920.70L736.49 1019.34A158.2 158.2 0 0 1 681.44 1063.23Z" fill="#AEAAAA"/>
<path d="M612.80 920.70L681.44 1063.23A158.2 158.2 0 0 1 544.16 1063.23Z" fill="#FDBCB9"/>
<path d="M612.80 920.70L544.16 1063.23A158.2 158.2 0 0 1 489.11 1019.34Z" fill="#757070"/>
<path d="M612.80 920.70L489.11 1019.34A158.2 158.2 0 0 1 458.57 955.90Z" fill="#D9D9D9"/>
<path d="M612.80 920.70L458.57 955.90A158.2 158.2 0 0 1 458.57 885.50Z" fill="#FFD9D0"/>
<path d="M612.80 920.70L458.57 885.50A158.2 158.2 0 0 1 489.11 822.06Z" fill="#EE6A5D"/>
<path d="M612.80 920.70L489.11 822.06A158.2 158.2 0 0 1 544.16 778.17Z" fill="#FF0000"/>
<path d="M612.80 920.70L544.16 778.17A158.2 158.2 0 0 1 612.80 762.50Z" fill="#1F3864"/>
</g>
<text x="656.6" y="819.2" font-size="24.3" text-anchor="middle" fill="#fff">6-3</text>
<text x="717.2" y="927.1" font-size="24.3" text-anchor="middle">19</text>
<text x="607.5" y="1052.9" font-size="24.3" text-anchor="middle">11-2</text>
<rect x="789.8" y="797.7" width="9" height="9" fill="#EE6A5D"/>
<text x="806.8" y="810.0" font-size="24.6">7-6</text>
<rect x="789.8" y="823.4" width="9" height="9" fill="#FF0000"/>
<text x="806.8" y="835.7" font-size="24.6">5-6</text>
<rect x="789.8" y="849.1" width="9" height="9" fill="#1F3864"/>
<text x="806.8" y="861.4" font-size="24.6">5-1</text>
<rect x="789.8" y="874.8" width="9" height="9" fill="#8FAADC"/>
<text x="806.8" y="887.1" font-size="24.6">19</text>
<rect x="789.8" y="900.5" width="9" height="9" fill="#FDBCB9"/>
<text x="806.8" y="912.8" font-size="24.6">11-2</text>
<rect x="789.8" y="926.2" width="9" height="9" fill="#2F5496"/>
<text x="806.8" y="938.5" font-size="24.6">6-3</text>
<rect x="789.8" y="951.9" width="9" height="9" fill="#FFD9D0"/>
<text x="806.8" y="964.2" font-size="24.6">20-1</text>
<rect x="789.8" y="977.6" width="9" height="9" fill="#D9D9D9"/>
<text x="806.8" y="989.9" font-size="24.6">15</text>
<rect x="789.8" y="1003.3" width="9" height="9" fill="#AEAAAA"/>
<text x="806.8" y="1015.6" font-size="24.6">10-1</text>
<rect x="789.8" y="1029.0" width="9" height="9" fill="#757070"/>
<text x="806.8" y="1041.3" font-size="24.6">28</text>
<g stroke="#fff" stroke-width="2.2" stroke-linejoin="round">
<path d="M167.90 1297.20L167.90 1137.20A160 160 0 0 1 254.40 1162.60Z" fill="#2F5496"/>
<path d="M167.90 1297.20L254.40 1162.60A160 160 0 0 1 212.98 1450.72Z" fill="#8FAADC"/>
<path d="M167.90 1297.20L212.98 1450.72A160 160 0 0 1 122.82 1450.72Z" fill="#A5A5A5"/>
<path d="M167.90 1297.20L122.82 1450.72A160 160 0 0 1 9.53 1319.97Z" fill="#FDBCB9"/>
<path d="M167.90 1297.20L9.53 1319.97A160 160 0 0 1 22.36 1230.73Z" fill="#EE6A5D"/>
<path d="M167.90 1297.20L22.36 1230.73A160 160 0 0 1 81.40 1162.60Z" fill="#E13521"/>
<path d="M167.90 1297.20L81.40 1162.60A160 160 0 0 1 167.90 1137.20Z" fill="#001F5F"/>
</g>
<text x="70.3" y="1225.1" font-size="24.3" text-anchor="middle">15</text>
<text x="249.3" y="1309.1" font-size="24.3" text-anchor="middle">34</text>
<text x="91.8" y="1369.7" font-size="24.3" text-anchor="middle">9</text>
<rect x="351.3" y="1217.8" width="9" height="9" fill="#EE6A5D"/>
<text x="368.7" y="1230.1" font-size="24.6">21</text>
<rect x="351.3" y="1243.9" width="9" height="9" fill="#FF0000"/>
<text x="368.7" y="1256.2" font-size="24.6">15</text>
<rect x="351.3" y="1270.0" width="9" height="9" fill="#001F5F"/>
<text x="368.7" y="1282.3" font-size="24.6">54</text>
<rect x="351.3" y="1296.1" width="9" height="9" fill="#8FAADC"/>
<text x="368.7" y="1308.4" font-size="24.6">34</text>
<rect x="351.3" y="1322.2" width="9" height="9" fill="#FDBCB9"/>
<text x="368.7" y="1334.5" font-size="24.6">9</text>
<rect x="351.3" y="1348.3" width="9" height="9" fill="#2F5496"/>
<text x="368.7" y="1360.6" font-size="24.6">6</text>
<rect x="351.3" y="1374.4" width="9" height="9" fill="#A5A5A5"/>
<text x="368.7" y="1386.7" font-size="24.6">18</text>
<g stroke="#fff" stroke-width="2.2" stroke-linejoin="round">
<path d="M621.00 1295.90L621.00 1136.90A159 159 0 0 1 745.31 1395.03Z" fill="#8FAADC"/>
<path d="M621.00 1298.90L745.31 1398.03A159 159 0 0 1 496.69 1398.03Z" fill="#FDBCB9"/>
<path d="M621.00 1295.90L496.69 1395.03A159 159 0 0 1 465.99 1331.28Z" fill="#EE6A5D"/>
<path d="M621.00 1295.90L465.99 1331.28A159 159 0 0 1 465.99 1260.52Z" fill="#FF0000"/>
<path d="M621.00 1295.90L465.99 1260.52A159 159 0 0 1 552.01 1152.65Z" fill="#2F5496"/>
<path d="M621.00 1295.90L552.01 1152.65A159 159 0 0 1 621.00 1136.90Z" fill="#001F5F"/>
</g>
<text x="528.0" y="1225.5" font-size="24.3" text-anchor="middle" fill="#fff">2-3</text>
<text x="682.8" y="1247.1" font-size="24.3" text-anchor="middle">2-1</text>
<text x="596.9" y="1382.6" font-size="24.3" text-anchor="middle">2-7</text>
<rect x="793.5" y="1225.7" width="9" height="9" fill="#EE6A5D"/>
<text x="810.4" y="1238.0" font-size="24.6">1-5</text>
<rect x="793.5" y="1251.7" width="9" height="9" fill="#FF0000"/>
<text x="810.4" y="1264.0" font-size="24.6">1-1</text>
<rect x="793.5" y="1277.7" width="9" height="9" fill="#001F5F"/>
<text x="810.4" y="1290.0" font-size="24.6">2-2</text>
<rect x="793.5" y="1303.7" width="9" height="9" fill="#8FAADC"/>
<text x="810.4" y="1316.0" font-size="24.6">2-1</text>
<rect x="793.5" y="1329.7" width="9" height="9" fill="#FDBCB9"/>
<text x="810.4" y="1342.0" font-size="24.6">2-7</text>
<rect x="793.5" y="1355.7" width="9" height="9" fill="#2F5496"/>
<text x="810.4" y="1368.0" font-size="24.6">2-3</text>
</g>
<g id="panel-d">
<text x="1376.0" y="687.8" font-size="32.6" text-anchor="middle">NY-ESO-1</text>
<text x="1070.0" y="748.0" font-size="33.5" text-anchor="middle">TRAV</text>
<text x="1671.7" y="748.0" font-size="33.5" text-anchor="middle">TRBV</text>
<text x="1068.4" y="1127.3" font-size="33.5" text-anchor="middle">TRAJ</text>
<text x="1671.7" y="1127.3" font-size="33.5" text-anchor="middle">TRBJ</text>
<text x="1085.2" y="1485.2" font-size="33.5" text-anchor="middle"><tspan font-style="italic">n</tspan> = 35</text>
<text x="1668.9" y="1485.2" font-size="33.5" text-anchor="middle"><tspan font-style="italic">n</tspan> = 35</text>
<g stroke="#fff" stroke-width="1.2" stroke-linejoin="round">
<path d="M1081.20 921.30L1081.20 764.00A157.3 157.3 0 0 1 1198.10 816.05Z" fill="#D9D9D9"/>
<path d="M1081.20 921.30L1198.10 816.05A157.3 157.3 0 0 1 1217.43 842.65Z" fill="#432D5F"/>
<path d="M1081.20 921.30L1217.43 842.65A157.3 157.3 0 0 1 1237.64 904.86Z" fill="#7961B1"/>
<path d="M1081.20 921.30L1237.64 904.86A157.3 157.3 0 0 1 1237.64 937.74Z" fill="#A89BCF"/>
<path d="M1081.20 921.30L1237.64 937.74A157.3 157.3 0 0 1 1230.80 969.91Z" fill="#C9CCED"/>
<path d="M1081.20 921.30L1230.80 969.91A157.3 157.3 0 0 1 1217.43 999.95Z" fill="#E9AEDB"/>
<path d="M1081.20 921.30L1217.43 999.95A157.3 157.3 0 0 1 1145.18 1065.00Z" fill="#C45587"/>
<path d="M1081.20 921.30L1145.18 1065.00A157.3 157.3 0 0 1 1113.90 1075.16Z" fill="#C00000"/>
<path d="M1081.20 921.30L1113.90 1075.16A157.3 157.3 0 0 1 1048.50 1075.16Z" fill="#FF0000"/>
<path d="M1081.20 921.30L1048.50 1075.16A157.3 157.3 0 0 1 1017.22 1065.00Z" fill="#001F5F"/>
<path d="M1081.20 921.30L1017.22 1065.00A157.3 157.3 0 0 1 988.74 1048.56Z" fill="#0070C0"/>
<path d="M1081.20 921.30L988.74 1048.56A157.3 157.3 0 0 1 964.30 1026.55Z" fill="#BDD7EE"/>
<path d="M1081.20 921.30L964.30 1026.55A157.3 157.3 0 0 1 944.97 999.95Z" fill="#7BA0B8"/>
<path d="M1081.20 921.30L944.97 999.95A157.3 157.3 0 0 1 931.60 969.91Z" fill="#2F5496"/>
<path d="M1081.20 921.30L931.60 969.91A157.3 157.3 0 0 1 924.76 937.74Z" fill="#1A00FF"/>
<path d="M1081.20 921.30L924.76 937.74A157.3 157.3 0 0 1 924.76 904.86Z" fill="#DDC9D5"/>
<path d="M1081.20 921.30L924.76 904.86A157.3 157.3 0 0 1 944.97 842.65Z" fill="#FFD9D0"/>
<path d="M1081.20 921.30L944.97 842.65A157.3 157.3 0 0 1 964.30 816.05Z" fill="#C4586F"/>
<path d="M1081.20 921.30L964.30 816.05A157.3 157.3 0 0 1 988.74 794.04Z" fill="#A9003F"/>
<path d="M1081.20 921.30L988.74 794.04A157.3 157.3 0 0 1 1017.22 777.60Z" fill="#000000"/>
<path d="M1081.20 921.30L1017.22 777.60A157.3 157.3 0 0 1 1048.50 767.44Z" fill="#3B3838"/>
<path d="M1081.20 921.30L1048.50 767.44A157.3 157.3 0 0 1 1081.20 764.00Z" fill="#7F7F7F"/>
</g>
<text x="1113.8" y="840.7" font-size="24.3" text-anchor="middle">3</text>
<text x="973.0" y="896.9" font-size="24.3" text-anchor="middle">10-1</text>
<text x="1148.0" y="997.9" font-size="24.3" text-anchor="middle">12-2</text>
<rect x="1256.0" y="774.2" width="9" height="9" fill="#000000"/>
<text x="1273.8" y="786.5" font-size="24.6">26-1</text>
<rect x="1256.0" y="799.9" width="9" height="9" fill="#D9D9D9"/>
<text x="1273.8" y="812.2" font-size="24.6">3</text>
<rect x="1256.0" y="825.6" width="9" height="9" fill="#432D5F"/>
<text x="1273.8" y="837.9" font-size="24.6">6</text>
<rect x="1256.0" y="851.3" width="9" height="9" fill="#7961B1"/>
<text x="1273.8" y="863.6" font-size="24.6">9-2</text>
<rect x="1256.0" y="877.0" width="9" height="9" fill="#A89BCF"/>
<text x="1273.8" y="889.3" font-size="24.6">14DV4</text>
<rect x="1256.0" y="902.7" width="9" height="9" fill="#C9CCED"/>
<text x="1273.8" y="915.0" font-size="24.6">8-4</text>
<rect x="1256.0" y="928.4" width="9" height="9" fill="#E9AEDB"/>
<text x="1273.8" y="940.7" font-size="24.6">2</text>
<rect x="1256.0" y="954.1" width="9" height="9" fill="#C45587"/>
<text x="1273.8" y="966.4" font-size="24.6">12-2</text>
<rect x="1256.0" y="979.8" width="9" height="9" fill="#DDC9D5"/>
<text x="1273.8" y="992.1" font-size="24.6">36DV7</text>
<rect x="1256.0" y="1005.5" width="9" height="9" fill="#FFD9D0"/>
<text x="1273.8" y="1017.8" font-size="24.6">10-1</text>
<rect x="1256.0" y="1031.2" width="9" height="9" fill="#C4586F"/>
<text x="1273.8" y="1043.5" font-size="24.6">20</text>
<rect x="1368.2" y="774.2" width="9" height="9" fill="#C00000"/>
<text x="1385.5" y="786.5" font-size="24.6">23DV6</text>
<rect x="1368.2" y="799.9" width="9" height="9" fill="#FF0000"/>
<text x="1385.5" y="812.2" font-size="24.6">19</text>
<rect x="1368.2" y="825.6" width="9" height="9" fill="#001F5F"/>
<text x="1385.5" y="837.9" font-size="24.6">26-2</text>
<rect x="1368.2" y="851.3" width="9" height="9" fill="#0070C0"/>
<text x="1385.5" y="863.6" font-size="24.6">24</text>
<rect x="1368.2" y="877.0" width="9" height="9" fill="#BDD7EE"/>
<text x="1385.5" y="889.3" font-size="24.6">38-2DV8</text>
<rect x="1368.2" y="902.7" width="9" height="9" fill="#7BA0B8"/>
<text x="1385.5" y="915.0" font-size="24.6">39</text>
<rect x="1368.2" y="928.4" width="9" height="9" fill="#2F5496"/>
<text x="1385.5" y="940.7" font-size="24.6">13-1</text>
<rect x="1368.2" y="954.1" width="9" height="9" fill="#2A33E0"/>
<text x="1385.5" y="966.4" font-size="24.6">25</text>
<rect x="1368.2" y="979.8" width="9" height="9" fill="#A9003F"/>
<text x="1385.5" y="992.1" font-size="24.6">8-6</text>
<rect x="1368.2" y="1005.5" width="9" height="9" fill="#3B3838"/>
<text x="1385.5" y="1017.8" font-size="24.6">29DV5</text>
<rect x="1368.2" y="1031.2" width="9" height="9" fill="#7F7F7F"/>
<text x="1385.5" y="1043.5" font-size="24.6">12-3</text>
<g stroke="#fff" stroke-width="2.0" stroke-linejoin="round">
<path d="M1660.90 920.10L1660.90 763.50A156.6 156.6 0 0 1 1778.46 816.64Z" fill="#94416D"/>
<path d="M1660.90 920.10L1778.46 816.64A156.6 156.6 0 0 1 1794.25 837.99Z" fill="#E396D2"/>
<path d="M1660.90 920.10L1794.25 837.99A156.6 156.6 0 0 1 1813.99 887.11Z" fill="#FDD5F7"/>
<path d="M1660.90 920.10L1813.99 887.11A156.6 156.6 0 0 1 1810.64 965.96Z" fill="#D3C1FF"/>
<path d="M1660.90 920.10L1810.64 965.96A156.6 156.6 0 0 1 1800.73 990.60Z" fill="#B587EE"/>
<path d="M1660.90 920.10L1800.73 990.60A156.6 156.6 0 0 1 1769.26 1033.16Z" fill="#8963B8"/>
<path d="M1660.90 920.10L1769.26 1033.16A156.6 156.6 0 0 1 1748.59 1049.84Z" fill="#553A77"/>
<path d="M1660.90 920.10L1748.59 1049.84A156.6 156.6 0 0 1 1674.18 1076.14Z" fill="#FDD3BD"/>
<path d="M1660.90 920.10L1674.18 1076.14A156.6 156.6 0 0 1 1647.62 1076.14Z" fill="#E97FA0"/>
<path d="M1660.90 920.10L1647.62 1076.14A156.6 156.6 0 0 1 1596.40 1062.80Z" fill="#000000"/>
<path d="M1660.90 920.10L1596.40 1062.80A156.6 156.6 0 0 1 1505.57 939.99Z" fill="#767171"/>
<path d="M1660.90 920.10L1505.57 939.99A156.6 156.6 0 0 1 1504.44 913.45Z" fill="#2F4E61"/>
<path d="M1660.90 920.10L1504.44 913.45A156.6 156.6 0 0 1 1515.59 861.71Z" fill="#4A7E9D"/>
<path d="M1660.90 920.10L1515.59 861.71A156.6 156.6 0 0 1 1527.55 837.99Z" fill="#5BA8E0"/>
<path d="M1660.90 920.10L1527.55 837.99A156.6 156.6 0 0 1 1562.52 798.26Z" fill="#BDD7EE"/>
<path d="M1660.90 920.10L1562.52 798.26A156.6 156.6 0 0 1 1584.53 783.39Z" fill="#D9D9D9"/>
<path d="M1660.90 920.10L1584.53 783.39A156.6 156.6 0 0 1 1608.73 772.45Z" fill="#FDB4B4"/>
<path d="M1660.90 920.10L1608.73 772.45A156.6 156.6 0 0 1 1634.43 765.75Z" fill="#EE695C"/>
<path d="M1660.90 920.10L1634.43 765.75A156.6 156.6 0 0 1 1660.90 763.50Z" fill="#852F4A"/>
</g>
<text x="1700.9" y="820.0" font-size="24.3" text-anchor="middle">2</text>
<text x="1790.7" y="926.1" font-size="24.3" text-anchor="middle">9</text>
<text x="1574.6" y="981.0" font-size="24.3" text-anchor="middle">28</text>
<text x="1700.9" y="1038.3" font-size="24.3" text-anchor="middle">20-1</text>
<rect x="1831.6" y="782.6" width="9" height="9" fill="#000000"/>
<text x="1848.5" y="794.9" font-size="24.6">6-6</text>
<rect x="1831.6" y="808.4" width="9" height="9" fill="#D9D9D9"/>
<text x="1848.5" y="820.7" font-size="24.6">15</text>
<rect x="1831.6" y="834.1" width="9" height="9" fill="#47306A"/>
<text x="1848.5" y="846.4" font-size="24.6">25-1</text>
<rect x="1831.6" y="859.9" width="9" height="9" fill="#8963B8"/>
<text x="1848.5" y="872.2" font-size="24.6">27</text>
<rect x="1831.6" y="885.6" width="9" height="9" fill="#B587EE"/>
<text x="1848.5" y="897.9" font-size="24.6">24-1</text>
<rect x="1831.6" y="911.4" width="9" height="9" fill="#D3C1FF"/>
<text x="1848.5" y="923.7" font-size="24.6">9</text>
<rect x="1831.6" y="937.2" width="9" height="9" fill="#FDD5F7"/>
<text x="1848.5" y="949.5" font-size="24.6">4-1</text>
<rect x="1831.6" y="962.9" width="9" height="9" fill="#E396D2"/>
<text x="1848.5" y="975.2" font-size="24.6">3-1</text>
<rect x="1831.6" y="988.7" width="9" height="9" fill="#94416D"/>
<text x="1848.5" y="1001.0" font-size="24.6">2</text>
<rect x="1831.6" y="1014.4" width="9" height="9" fill="#FDD3BD"/>
<text x="1848.5" y="1026.7" font-size="24.6">20-1</text>
<rect x="1831.6" y="1040.2" width="9" height="9" fill="#852F4A"/>
<text x="1848.5" y="1052.5" font-size="24.6">6-5</text>
<rect x="1935.5" y="782.6" width="9" height="9" fill="#EE695C"/>
<text x="1951.2" y="794.9" font-size="24.6">7-6</text>
<rect x="1935.5" y="808.4" width="9" height="9" fill="#FDB4B4"/>
<text x="1951.2" y="820.7" font-size="24.6">11-2</text>
<rect x="1935.5" y="834.1" width="9" height="9" fill="#BDD7EE"/>
<text x="1951.2" y="846.4" font-size="24.6">7-9</text>
<rect x="1935.5" y="859.9" width="9" height="9" fill="#5BA8E0"/>
<text x="1951.2" y="872.2" font-size="24.6">13</text>
<rect x="1935.5" y="885.6" width="9" height="9" fill="#4A7E9D"/>
<text x="1951.2" y="897.9" font-size="24.6">6-1</text>
<rect x="1935.5" y="911.4" width="9" height="9" fill="#2F4E61"/>
<text x="1951.2" y="923.7" font-size="24.6">12-4</text>
<rect x="1935.5" y="937.2" width="9" height="9" fill="#767171"/>
<text x="1951.2" y="949.5" font-size="24.6">28</text>
<rect x="1935.5" y="962.9" width="9" height="9" fill="#E97FA0"/>
<text x="1951.2" y="975.2" font-size="24.6">4-3</text>
<g stroke="#fff" stroke-width="1.5" stroke-linejoin="round">
<path d="M1085.50 1297.40L1085.50 1137.20A160.2 160.2 0 0 1 1118.81 1140.70Z" fill="#7F7F7F"/>
<path d="M1085.50 1297.40L1118.81 1140.70A160.2 160.2 0 0 1 1150.66 1151.05Z" fill="#F4C6C3"/>
<path d="M1085.50 1297.40L1150.66 1151.05A160.2 160.2 0 0 1 1224.24 1217.30Z" fill="#8FAADC"/>
<path d="M1085.50 1297.40L1224.24 1217.30A160.2 160.2 0 0 1 1237.86 1247.90Z" fill="#BDD7EE"/>
<path d="M1085.50 1297.40L1237.86 1247.90A160.2 160.2 0 0 1 1244.82 1280.65Z" fill="#6EB8E0"/>
<path d="M1085.50 1297.40L1244.82 1280.65A160.2 160.2 0 0 1 1237.86 1346.90Z" fill="#0070C0"/>
<path d="M1085.50 1297.40L1237.86 1346.90A160.2 160.2 0 0 1 1224.24 1377.50Z" fill="#004C83"/>
<path d="M1085.50 1297.40L1224.24 1377.50A160.2 160.2 0 0 1 1179.66 1427.00Z" fill="#2B3BFF"/>
<path d="M1085.50 1297.40L1179.66 1427.00A160.2 160.2 0 0 1 1052.19 1454.10Z" fill="#5F75FF"/>
<path d="M1085.50 1297.40L1052.19 1454.10A160.2 160.2 0 0 1 966.45 1404.59Z" fill="#001F5F"/>
<path d="M1085.50 1297.40L966.45 1404.59A160.2 160.2 0 0 1 946.76 1377.50Z" fill="#F8D8FC"/>
<path d="M1085.50 1297.40L946.76 1377.50A160.2 160.2 0 0 1 933.14 1247.90Z" fill="#D9B0E3"/>
<path d="M1085.50 1297.40L933.14 1247.90A160.2 160.2 0 0 1 946.76 1217.30Z" fill="#DEC9D6"/>
<path d="M1085.50 1297.40L946.76 1217.30A160.2 160.2 0 0 1 966.45 1190.21Z" fill="#C597AB"/>
<path d="M1085.50 1297.40L966.45 1190.21A160.2 160.2 0 0 1 991.34 1167.80Z" fill="#842C47"/>
<path d="M1085.50 1297.40L991.34 1167.80A160.2 160.2 0 0 1 1020.34 1151.05Z" fill="#CC455A"/>
<path d="M1085.50 1297.40L1020.34 1151.05A160.2 160.2 0 0 1 1052.19 1140.70Z" fill="#000000"/>
<path d="M1085.50 1297.40L1052.19 1140.70A160.2 160.2 0 0 1 1085.50 1137.20Z" fill="#D9D9D9"/>
</g>
<text x="1154.8" y="1205.4" font-size="24.3" text-anchor="middle">34</text>
<text x="961.7" y="1308.1" font-size="24.3" text-anchor="middle">33</text>
<text x="1098.7" y="1394.0" font-size="24.3" text-anchor="middle">39</text>
<rect x="1260.3" y="1155.8" width="9" height="9" fill="#000000"/>
<text x="1277.7" y="1168.1" font-size="24.6">43</text>
<rect x="1260.3" y="1181.6" width="9" height="9" fill="#D9D9D9"/>
<text x="1277.7" y="1193.9" font-size="24.6">26</text>
<rect x="1260.3" y="1207.3" width="9" height="9" fill="#7F7F7F"/>
<text x="1277.7" y="1219.6" font-size="24.6">18</text>
<rect x="1260.3" y="1233.1" width="9" height="9" fill="#F4C6C3"/>
<text x="1277.7" y="1245.4" font-size="24.6">9</text>
<rect x="1260.3" y="1258.8" width="9" height="9" fill="#8FAADC"/>
<text x="1277.7" y="1271.1" font-size="24.6">34</text>
<rect x="1260.3" y="1284.6" width="9" height="9" fill="#BDD7EE"/>
<text x="1277.7" y="1296.9" font-size="24.6">37</text>
<rect x="1260.3" y="1310.4" width="9" height="9" fill="#6EB8E0"/>
<text x="1277.7" y="1322.7" font-size="24.6">23</text>
<rect x="1260.3" y="1336.1" width="9" height="9" fill="#0070C0"/>
<text x="1277.7" y="1348.4" font-size="24.6">27</text>
<rect x="1260.3" y="1361.9" width="9" height="9" fill="#004C83"/>
<text x="1277.7" y="1374.2" font-size="24.6">13</text>
<rect x="1260.3" y="1387.6" width="9" height="9" fill="#2B3BFF"/>
<text x="1277.7" y="1399.9" font-size="24.6">49</text>
<rect x="1260.3" y="1413.4" width="9" height="9" fill="#5F75FF"/>
<text x="1277.7" y="1425.7" font-size="24.6">39</text>
<rect x="1367.5" y="1155.8" width="9" height="9" fill="#001F5F"/>
<text x="1385.5" y="1168.1" font-size="24.6">54</text>
<rect x="1367.5" y="1181.6" width="9" height="9" fill="#F8D8FC"/>
<text x="1385.5" y="1193.9" font-size="24.6">52</text>
<rect x="1367.5" y="1207.3" width="9" height="9" fill="#D9B0E3"/>
<text x="1385.5" y="1219.6" font-size="24.6">33</text>
<rect x="1367.5" y="1233.1" width="9" height="9" fill="#DEC9D6"/>
<text x="1385.5" y="1245.4" font-size="24.6">41</text>
<rect x="1367.5" y="1258.8" width="9" height="9" fill="#C597AB"/>
<text x="1385.5" y="1271.1" font-size="24.6">29</text>
<rect x="1367.5" y="1284.6" width="9" height="9" fill="#842C47"/>
<text x="1385.5" y="1296.9" font-size="24.6">48</text>
<rect x="1367.5" y="1310.4" width="9" height="9" fill="#CC455A"/>
<text x="1385.5" y="1322.7" font-size="24.6">30</text>
<g stroke="#fff" stroke-width="2.0" stroke-linejoin="round">
<path d="M1663.50 1296.90L1663.50 1139.40A157.5 157.5 0 0 1 1802.19 1222.27Z" fill="#FF0000"/>
<path d="M1663.50 1296.90L1802.19 1222.27A157.5 157.5 0 0 1 1817.05 1331.95Z" fill="#FCD0C5"/>
<path d="M1663.50 1296.90L1817.05 1331.95A157.5 157.5 0 0 1 1731.84 1438.80Z" fill="#001F5F"/>
<path d="M1663.50 1296.90L1731.84 1438.80A157.5 157.5 0 0 1 1649.38 1453.77Z" fill="#8B63B7"/>
<path d="M1663.50 1296.90L1649.38 1453.77A157.5 157.5 0 0 1 1570.92 1424.32Z" fill="#F77970"/>
<path d="M1663.50 1296.90L1570.92 1424.32A157.5 157.5 0 0 1 1506.16 1303.97Z" fill="#2F5496"/>
<path d="M1663.50 1296.90L1506.16 1303.97A157.5 157.5 0 0 1 1513.71 1248.23Z" fill="#2F4E61"/>
<path d="M1663.50 1296.90L1513.71 1248.23A157.5 157.5 0 0 1 1540.36 1198.70Z" fill="#BFBFBF"/>
<path d="M1663.50 1296.90L1540.36 1198.70A157.5 157.5 0 0 1 1608.16 1149.44Z" fill="#8FAADC"/>
<path d="M1663.50 1296.90L1608.16 1149.44A157.5 157.5 0 0 1 1663.50 1139.40Z" fill="#C7B9FF"/>
</g>
<text x="1712.7" y="1202.1" font-size="24.3" text-anchor="middle">1-1</text>
<text x="1767.7" y="1273.9" font-size="24.3" text-anchor="middle">2-7</text>
<text x="1741.8" y="1360.9" font-size="24.3" text-anchor="middle" fill="#fff">2-2</text>
<text x="1557.8" y="1334.5" font-size="24.3" text-anchor="middle" fill="#fff">2-3</text>
<rect x="1835.6" y="1172.0" width="9" height="9" fill="#FF0000"/>
<text x="1852.4" y="1184.3" font-size="24.6">1-1</text>
<rect x="1835.6" y="1197.9" width="9" height="9" fill="#FCD0C5"/>
<text x="1852.4" y="1210.2" font-size="24.6">2-7</text>
<rect x="1835.6" y="1223.8" width="9" height="9" fill="#001F5F"/>
<text x="1852.4" y="1236.1" font-size="24.6">2-2</text>
<rect x="1835.6" y="1249.7" width="9" height="9" fill="#8B63B7"/>
<text x="1852.4" y="1262.0" font-size="24.6">2-6</text>
<rect x="1835.6" y="1275.6" width="9" height="9" fill="#F77970"/>
<text x="1852.4" y="1287.9" font-size="24.6">1-5</text>
<rect x="1835.6" y="1301.5" width="9" height="9" fill="#2F5496"/>
<text x="1852.4" y="1313.8" font-size="24.6">2-3</text>
<rect x="1835.6" y="1327.4" width="9" height="9" fill="#2F4E61"/>
<text x="1852.4" y="1339.7" font-size="24.6">1-3</text>
<rect x="1835.6" y="1353.3" width="9" height="9" fill="#BFBFBF"/>
<text x="1852.4" y="1365.6" font-size="24.6">1-2</text>
<rect x="1835.6" y="1379.2" width="9" height="9" fill="#8FAADC"/>
<text x="1852.4" y="1391.5" font-size="24.6">2-1</text>
<rect x="1835.6" y="1405.1" width="9" height="9" fill="#C7B9FF"/>
<text x="1852.4" y="1417.4" font-size="24.6">2-5</text>
</g>
<g id="panel-e">
<text x="256.6" y="1587.6" font-size="33.2">TRAV</text>
<text x="439.8" y="1587.6" font-size="33.2">TRAJ</text>
<text x="751.5" y="1587.6" font-size="33.2" text-anchor="middle">CDR3</text>
<text x="1030.0" y="1587.6" font-size="33.2">TRBV</text>
<text x="1184.7" y="1587.6" font-size="33.2">TRBJ</text>
<text x="1537.2" y="1587.6" font-size="33.2" text-anchor="middle">CDR3</text>
<text x="237.6" y="1629.6" font-size="33.2">V16</text>
<text x="450.0" y="1629.6" font-size="33.2">J9</text>
<text x="590.3" y="1629.6" font-size="33.2">CALMGGTGGFKTIF</text>
<text x="1032.5" y="1629.6" font-size="33.2">V7-6</text>
<text x="1183.7" y="1628.9" font-size="33.2">J2-2</text>
<text x="1354.6" y="1628.9" font-size="33.2">CASSLYFSAANTGELFF</text>
<text x="237.6" y="1671.2" font-size="33.2">V8-1</text>
<text x="441.3" y="1671.2" font-size="33.2">J21</text>
<text x="590.3" y="1671.2" font-size="33.2">CAGYNFNKFYF</text>
<text x="1032.5" y="1669.5" font-size="33.2">V5-6</text>
<text x="1183.7" y="1669.3" font-size="33.2">J2-3</text>
<text x="1354.6" y="1670.0" font-size="33.2">CASSFFSGGGDTQYF</text>
<text x="237.6" y="1710.4" font-size="33.2">V13-2</text>
<text x="441.3" y="1712.1" font-size="33.2">J15</text>
<text x="590.3" y="1710.4" font-size="33.2">CAETLNQAGTALIF</text>
<text x="1032.5" y="1710.4" font-size="33.2">V6-3</text>
<text x="1183.7" y="1709.7" font-size="33.2">J2-7</text>
<text x="1354.6" y="1711.6" font-size="33.2">CASTNIGAVYEQYF</text>
<text x="237.6" y="1752.1" font-size="33.2" fill="#F7941D">V8-1</text>
<text x="441.3" y="1754.5" font-size="33.2" fill="#F7941D">J34</text>
<text x="590.3" y="1751.6" font-size="33.2" fill="#F7941D">CAVKDTDKLIF</text>
<text x="1032.5" y="1752.1" font-size="33.2">V19</text>
<text x="1183.7" y="1749.6" font-size="33.2">J2-7</text>
<text x="1354.6" y="1752.1" font-size="33.2">CASSTLGSIYEQYF</text>
<text x="237.6" y="1793.7" font-size="33.2" fill="#F7941D">V8-1</text>
<text x="441.3" y="1795.7" font-size="33.2" fill="#F7941D">J34</text>
<text x="590.3" y="1793.2" font-size="33.2" fill="#F7941D">CAVKDTDKLIF</text>
<text x="1032.5" y="1793.7" font-size="33.2">V10-1</text>
<text x="1183.7" y="1790.0" font-size="33.2">J2-7</text>
<text x="1354.6" y="1793.7" font-size="33.2">CASSEGPNEQFF</text>
<text x="237.6" y="1835.3" font-size="33.2" fill="#F7941D">V8-1</text>
<text x="441.3" y="1837.0" font-size="33.2" fill="#F7941D">J34</text>
<text x="590.3" y="1834.8" font-size="33.2" fill="#F7941D">CAVKDTDKLIF</text>
<text x="1032.5" y="1835.3" font-size="33.2">V15</text>
<text x="1183.7" y="1835.3" font-size="33.2">J2-3</text>
<text x="1354.6" y="1835.3" font-size="33.2">CATRPLGTQVTDTQYF</text>
<text x="237.6" y="1877.7" font-size="33.2" fill="#F7941D">V8-1</text>
<text x="441.3" y="1879.4" font-size="33.2" fill="#F7941D">J34</text>
<text x="590.3" y="1876.2" font-size="33.2" fill="#F7941D">CAVKDTDKLIF</text>
<text x="1032.5" y="1876.2" font-size="33.2">V19</text>
<text x="1183.7" y="1875.3" font-size="33.2" fill="#FF1010">J2-1</text>
<text x="1354.6" y="1875.7" font-size="33.2" fill="#FF1010">CASSKEILSYNEQFF</text>
<text x="237.6" y="1917.4" font-size="33.2">V26-2</text>
<text x="441.3" y="1916.6" font-size="33.2">J54</text>
<text x="590.3" y="1917.4" font-size="33.2">CILRDFQGAQKLVF</text>
<text x="1032.5" y="1917.4" font-size="33.2">V11-2</text>
<text x="1183.7" y="1915.4" font-size="33.2" fill="#FF1010">J2-1</text>
<text x="1354.6" y="1917.4" font-size="33.2" fill="#FF1010">CASSKEILSYNEQFF</text>
<path d="M244.5 1594.3H197V1925.2H244.5" fill="none" stroke="#000" stroke-width="4.3"/>
<text transform="translate(179.3 1763.5) rotate(-90)" font-size="32.3" text-anchor="middle">EBV-BRLF1</text>
</g>
</svg></body></html>
